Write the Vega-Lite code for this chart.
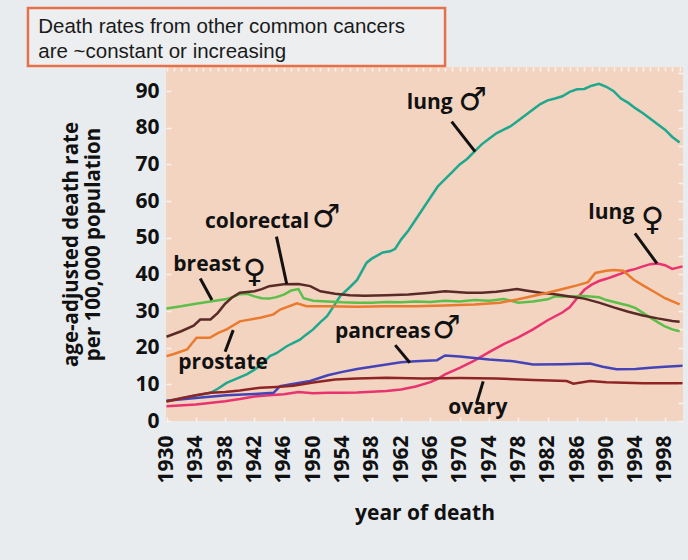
{
  "$schema": "https://vega.github.io/schema/vega-lite/v6.json",
  "autosize": "none",
  "width": 517,
  "height": 354,
  "padding": {"left": 166, "top": 67, "right": 5, "bottom": 139},
  "background": "#e9ecef",
  "config": {
    "view": {"fill": "#f3d4c1", "stroke": null},
    "font": "Open Sans"
  },
  "resolve": {"axis": {"x": "independent", "y": "independent"}},
  "datasets": {
    "lines": [
      {"s":"lung (male)","year":1930,"value":5.4},{"s":"lung (male)","year":1932,"value":6.2},{"s":"lung (male)","year":1933.6,"value":6.8},{"s":"lung (male)","year":1936,"value":7.7},{"s":"lung (male)","year":1937,"value":8.8},{"s":"lung (male)","year":1938.2,"value":10.4},{"s":"lung (male)","year":1939.5,"value":11.5},{"s":"lung (male)","year":1941,"value":12.8},{"s":"lung (male)","year":1942,"value":14},{"s":"lung (male)","year":1943,"value":15.5},{"s":"lung (male)","year":1944.1,"value":17.7},{"s":"lung (male)","year":1945,"value":18.5},{"s":"lung (male)","year":1946.4,"value":20.4},{"s":"lung (male)","year":1948.2,"value":22.2},{"s":"lung (male)","year":1949,"value":23.5},{"s":"lung (male)","year":1950,"value":25},{"s":"lung (male)","year":1951,"value":27},{"s":"lung (male)","year":1951.9,"value":28.6},{"s":"lung (male)","year":1952.7,"value":31},{"s":"lung (male)","year":1953.7,"value":34.1},{"s":"lung (male)","year":1955,"value":36.5},{"s":"lung (male)","year":1956,"value":38.5},{"s":"lung (male)","year":1957.3,"value":43.2},{"s":"lung (male)","year":1958,"value":44.3},{"s":"lung (male)","year":1959.5,"value":46},{"s":"lung (male)","year":1960.5,"value":46.3},{"s":"lung (male)","year":1961.2,"value":47},{"s":"lung (male)","year":1962,"value":49.5},{"s":"lung (male)","year":1963,"value":52},{"s":"lung (male)","year":1964,"value":55},{"s":"lung (male)","year":1965,"value":58},{"s":"lung (male)","year":1966,"value":61},{"s":"lung (male)","year":1967,"value":64},{"s":"lung (male)","year":1968,"value":66},{"s":"lung (male)","year":1969,"value":68},{"s":"lung (male)","year":1970,"value":70},{"s":"lung (male)","year":1971,"value":71.5},{"s":"lung (male)","year":1972,"value":73.5},{"s":"lung (male)","year":1973,"value":75.5},{"s":"lung (male)","year":1974,"value":77},{"s":"lung (male)","year":1975,"value":78.5},{"s":"lung (male)","year":1976,"value":79.5},{"s":"lung (male)","year":1977,"value":80.5},{"s":"lung (male)","year":1978,"value":82},{"s":"lung (male)","year":1979,"value":83.5},{"s":"lung (male)","year":1980,"value":85},{"s":"lung (male)","year":1981,"value":86.5},{"s":"lung (male)","year":1982,"value":87.5},{"s":"lung (male)","year":1983,"value":88},{"s":"lung (male)","year":1984,"value":88.6},{"s":"lung (male)","year":1985,"value":89.8},{"s":"lung (male)","year":1986,"value":90.5},{"s":"lung (male)","year":1987,"value":90.6},{"s":"lung (male)","year":1988,"value":91.5},{"s":"lung (male)","year":1989,"value":92},{"s":"lung (male)","year":1990,"value":91.2},{"s":"lung (male)","year":1991,"value":90},{"s":"lung (male)","year":1992,"value":88},{"s":"lung (male)","year":1993,"value":86.8},{"s":"lung (male)","year":1994,"value":85.3},{"s":"lung (male)","year":1995,"value":84},{"s":"lung (male)","year":1996,"value":82.5},{"s":"lung (male)","year":1997,"value":81},{"s":"lung (male)","year":1998,"value":79.5},{"s":"lung (male)","year":1999,"value":77.5},{"s":"lung (male)","year":2000,"value":76},

      {"s":"lung (female)","year":1930,"value":4.0},{"s":"lung (female)","year":1934,"value":4.5},{"s":"lung (female)","year":1938,"value":5.4},{"s":"lung (female)","year":1940,"value":6.0},{"s":"lung (female)","year":1942,"value":6.7},{"s":"lung (female)","year":1944,"value":7.0},{"s":"lung (female)","year":1946,"value":7.3},{"s":"lung (female)","year":1948,"value":7.9},{"s":"lung (female)","year":1950,"value":7.6},{"s":"lung (female)","year":1952,"value":7.7},{"s":"lung (female)","year":1954,"value":7.7},{"s":"lung (female)","year":1956,"value":7.8},{"s":"lung (female)","year":1958,"value":8.0},{"s":"lung (female)","year":1960,"value":8.2},{"s":"lung (female)","year":1962,"value":8.6},{"s":"lung (female)","year":1964,"value":9.4},{"s":"lung (female)","year":1966,"value":10.6},{"s":"lung (female)","year":1967,"value":11.5},{"s":"lung (female)","year":1968,"value":12.7},{"s":"lung (female)","year":1970,"value":14.5},{"s":"lung (female)","year":1972,"value":16.5},{"s":"lung (female)","year":1974,"value":18.8},{"s":"lung (female)","year":1976,"value":21.0},{"s":"lung (female)","year":1978,"value":22.8},{"s":"lung (female)","year":1980,"value":25.0},{"s":"lung (female)","year":1982,"value":27.5},{"s":"lung (female)","year":1984,"value":29.6},{"s":"lung (female)","year":1985,"value":31},{"s":"lung (female)","year":1986,"value":33.5},{"s":"lung (female)","year":1987,"value":35.8},{"s":"lung (female)","year":1988,"value":37.2},{"s":"lung (female)","year":1989,"value":38.2},{"s":"lung (female)","year":1990,"value":38.8},{"s":"lung (female)","year":1991,"value":39.5},{"s":"lung (female)","year":1992,"value":40.2},{"s":"lung (female)","year":1993,"value":41.0},{"s":"lung (female)","year":1994,"value":41.5},{"s":"lung (female)","year":1995,"value":42.2},{"s":"lung (female)","year":1996,"value":42.8},{"s":"lung (female)","year":1997,"value":43.0},{"s":"lung (female)","year":1998,"value":42.5},{"s":"lung (female)","year":1999,"value":41.5},{"s":"lung (female)","year":2000.4,"value":42.2},

      {"s":"breast","year":1930,"value":30.7},{"s":"breast","year":1932,"value":31.3},{"s":"breast","year":1934,"value":32.0},{"s":"breast","year":1936,"value":32.6},{"s":"breast","year":1938,"value":33.2},{"s":"breast","year":1939,"value":33.8},{"s":"breast","year":1940,"value":34.6},{"s":"breast","year":1941,"value":34.7},{"s":"breast","year":1942,"value":34.0},{"s":"breast","year":1943,"value":33.5},{"s":"breast","year":1944,"value":33.4},{"s":"breast","year":1945,"value":33.8},{"s":"breast","year":1946,"value":34.5},{"s":"breast","year":1947,"value":35.6},{"s":"breast","year":1948,"value":36.0},{"s":"breast","year":1948.7,"value":33.5},{"s":"breast","year":1950,"value":32.8},{"s":"breast","year":1952,"value":32.6},{"s":"breast","year":1954,"value":32.4},{"s":"breast","year":1956,"value":32.3},{"s":"breast","year":1958,"value":32.3},{"s":"breast","year":1960,"value":32.5},{"s":"breast","year":1962,"value":32.4},{"s":"breast","year":1964,"value":32.6},{"s":"breast","year":1966,"value":32.5},{"s":"breast","year":1968,"value":32.8},{"s":"breast","year":1970,"value":32.6},{"s":"breast","year":1972,"value":33.0},{"s":"breast","year":1974,"value":32.8},{"s":"breast","year":1976,"value":33.3},{"s":"breast","year":1978,"value":32.3},{"s":"breast","year":1980,"value":32.6},{"s":"breast","year":1982,"value":33.2},{"s":"breast","year":1983,"value":34.0},{"s":"breast","year":1985,"value":34.0},{"s":"breast","year":1987,"value":34.1},{"s":"breast","year":1989,"value":33.8},{"s":"breast","year":1990,"value":33.0},{"s":"breast","year":1992,"value":32.0},{"s":"breast","year":1993,"value":31.5},{"s":"breast","year":1994,"value":30.8},{"s":"breast","year":1995,"value":29.5},{"s":"breast","year":1996,"value":28.2},{"s":"breast","year":1997,"value":27.0},{"s":"breast","year":1998,"value":25.8},{"s":"breast","year":1999,"value":25.0},{"s":"breast","year":2000,"value":24.5},

      {"s":"colorectal","year":1930,"value":23.0},{"s":"colorectal","year":1932,"value":24.5},{"s":"colorectal","year":1933.7,"value":26.0},{"s":"colorectal","year":1934.6,"value":27.7},{"s":"colorectal","year":1936,"value":27.7},{"s":"colorectal","year":1937,"value":29.5},{"s":"colorectal","year":1938,"value":32.0},{"s":"colorectal","year":1939,"value":33.8},{"s":"colorectal","year":1940,"value":35.0},{"s":"colorectal","year":1942,"value":35.4},{"s":"colorectal","year":1943,"value":36.0},{"s":"colorectal","year":1944,"value":36.8},{"s":"colorectal","year":1946,"value":37.3},{"s":"colorectal","year":1948,"value":37.4},{"s":"colorectal","year":1949.6,"value":36.8},{"s":"colorectal","year":1951,"value":35.4},{"s":"colorectal","year":1953,"value":34.7},{"s":"colorectal","year":1955,"value":34.3},{"s":"colorectal","year":1957,"value":34.2},{"s":"colorectal","year":1960,"value":34.3},{"s":"colorectal","year":1963,"value":34.5},{"s":"colorectal","year":1966,"value":35.0},{"s":"colorectal","year":1968,"value":35.4},{"s":"colorectal","year":1971,"value":35.0},{"s":"colorectal","year":1973,"value":35.0},{"s":"colorectal","year":1975,"value":35.3},{"s":"colorectal","year":1977.8,"value":36.0},{"s":"colorectal","year":1979,"value":35.6},{"s":"colorectal","year":1981,"value":35.0},{"s":"colorectal","year":1983,"value":34.6},{"s":"colorectal","year":1985,"value":34.0},{"s":"colorectal","year":1987,"value":33.4},{"s":"colorectal","year":1989,"value":32.3},{"s":"colorectal","year":1991,"value":31.0},{"s":"colorectal","year":1993,"value":29.8},{"s":"colorectal","year":1995,"value":28.8},{"s":"colorectal","year":1997,"value":28.0},{"s":"colorectal","year":1999,"value":27.3},{"s":"colorectal","year":2000,"value":27.1},

      {"s":"prostate","year":1930,"value":17.7},{"s":"prostate","year":1931,"value":18.3},{"s":"prostate","year":1932.8,"value":19.5},{"s":"prostate","year":1934.1,"value":22.7},{"s":"prostate","year":1935.9,"value":22.7},{"s":"prostate","year":1937,"value":24.0},{"s":"prostate","year":1938.2,"value":25.0},{"s":"prostate","year":1940,"value":27.2},{"s":"prostate","year":1942.8,"value":28.2},{"s":"prostate","year":1944.6,"value":29.1},{"s":"prostate","year":1945.5,"value":30.4},{"s":"prostate","year":1947.8,"value":32.1},{"s":"prostate","year":1949.1,"value":31.3},{"s":"prostate","year":1952,"value":31.3},{"s":"prostate","year":1956,"value":31.2},{"s":"prostate","year":1960,"value":31.3},{"s":"prostate","year":1964,"value":31.3},{"s":"prostate","year":1968,"value":31.5},{"s":"prostate","year":1972,"value":31.8},{"s":"prostate","year":1975.5,"value":32.3},{"s":"prostate","year":1978,"value":33.2},{"s":"prostate","year":1980,"value":34.1},{"s":"prostate","year":1982,"value":35.0},{"s":"prostate","year":1984.6,"value":36.3},{"s":"prostate","year":1986,"value":37.0},{"s":"prostate","year":1987.5,"value":37.9},{"s":"prostate","year":1988.5,"value":40.4},{"s":"prostate","year":1990,"value":41.0},{"s":"prostate","year":1991,"value":41.2},{"s":"prostate","year":1992.3,"value":41.0},{"s":"prostate","year":1993.7,"value":38.6},{"s":"prostate","year":1995,"value":37.0},{"s":"prostate","year":1996.4,"value":35.4},{"s":"prostate","year":1998,"value":33.5},{"s":"prostate","year":2000,"value":31.8},

      {"s":"pancreas","year":1930,"value":5.5},{"s":"pancreas","year":1934,"value":6.3},{"s":"pancreas","year":1938.2,"value":7.0},{"s":"pancreas","year":1942,"value":7.4},{"s":"pancreas","year":1944.6,"value":7.7},{"s":"pancreas","year":1945.5,"value":9.5},{"s":"pancreas","year":1947,"value":10.0},{"s":"pancreas","year":1949.6,"value":10.9},{"s":"pancreas","year":1952,"value":12.5},{"s":"pancreas","year":1954,"value":13.4},{"s":"pancreas","year":1956,"value":14.2},{"s":"pancreas","year":1958,"value":14.8},{"s":"pancreas","year":1960,"value":15.4},{"s":"pancreas","year":1962,"value":16.0},{"s":"pancreas","year":1964,"value":16.3},{"s":"pancreas","year":1966.9,"value":16.6},{"s":"pancreas","year":1968,"value":17.9},{"s":"pancreas","year":1970,"value":17.6},{"s":"pancreas","year":1972,"value":17.2},{"s":"pancreas","year":1974,"value":16.8},{"s":"pancreas","year":1977.3,"value":16.3},{"s":"pancreas","year":1980,"value":15.4},{"s":"pancreas","year":1984,"value":15.5},{"s":"pancreas","year":1987.8,"value":15.7},{"s":"pancreas","year":1989.5,"value":14.8},{"s":"pancreas","year":1991.4,"value":14.1},{"s":"pancreas","year":1994,"value":14.2},{"s":"pancreas","year":1996,"value":14.5},{"s":"pancreas","year":1998,"value":14.8},{"s":"pancreas","year":2000.4,"value":15.1},

      {"s":"ovary","year":1930,"value":5.3},{"s":"ovary","year":1932,"value":6.2},{"s":"ovary","year":1934,"value":7.0},{"s":"ovary","year":1936,"value":7.7},{"s":"ovary","year":1938,"value":7.9},{"s":"ovary","year":1940,"value":8.3},{"s":"ovary","year":1942.8,"value":9.1},{"s":"ovary","year":1945,"value":9.3},{"s":"ovary","year":1947.3,"value":9.6},{"s":"ovary","year":1950,"value":10.5},{"s":"ovary","year":1953,"value":11.3},{"s":"ovary","year":1956,"value":11.6},{"s":"ovary","year":1960,"value":11.8},{"s":"ovary","year":1965,"value":11.6},{"s":"ovary","year":1970,"value":11.7},{"s":"ovary","year":1975,"value":11.6},{"s":"ovary","year":1980,"value":11.2},{"s":"ovary","year":1984.6,"value":10.9},{"s":"ovary","year":1985.5,"value":10.2},{"s":"ovary","year":1987.8,"value":10.9},{"s":"ovary","year":1990,"value":10.6},{"s":"ovary","year":1995,"value":10.3},{"s":"ovary","year":2000.4,"value":10.3}
    ],
    "box": [{"year": 1911.1, "year2": 1968.0, "value": 112.7, "value2": 96.9, "text": "Death rates from other common cancers\nare ~constant or increasing", "tyear": 1912.5, "tvalue": 105.8}],
    "labels": [
      {"label": "lung", "year": 1962.77, "value": 86.7},
      {"label": "lung", "year": 1987.55, "value": 56.7},
      {"label": "colorectal", "year": 1935.25, "value": 54.4},
      {"label": "breast", "year": 1930.93, "value": 42.6},
      {"label": "prostate", "year": 1931.61, "value": 15.7},
      {"label": "pancreas", "year": 1952.99, "value": 24.4},
      {"label": "ovary", "year": 1968.44, "value": 3.5}
    ],
    "symbols": [
      {"sym": "♂", "year": 1971.8, "value": 87.7},
      {"sym": "♀", "year": 1996.3, "value": 54.9},
      {"sym": "♂", "year": 1951.8, "value": 55.8},
      {"sym": "♀", "year": 1942.0, "value": 40.6},
      {"sym": "♂", "year": 1968.2, "value": 25.5}
    ],
    "leaders": [
      {"year": 1968.9, "value": 81.7, "year2": 1972.1, "value2": 73.5},
      {"year": 1993.9, "value": 51.2, "year2": 1996.9, "value2": 43.0},
      {"year": 1945.0, "value": 50.3, "year2": 1946.4, "value2": 37.4},
      {"year": 1934.6, "value": 38.9, "year2": 1936.2, "value2": 33.0},
      {"year": 1939.1, "value": 24.8, "year2": 1938.0, "value2": 18.9},
      {"year": 1961.2, "value": 20.7, "year2": 1963.2, "value2": 15.9},
      {"year": 1973.2, "value": 10.8, "year2": 1972.3, "value2": 4.8}
    ]
  },
  "layer": [
    {
      "data": {"name": "lines"},
      "mark": {"type": "line", "strokeWidth": 2.5},
      "encoding": {
        "x": {
          "field": "year", "type": "quantitative",
          "scale": {"domain": [1929.93, 2000.46], "nice": false, "zero": false},
          "axis": {
            "title": "year of death",
            "values": [1930,1934,1938,1942,1946,1950,1954,1958,1962,1966,1970,1974,1978,1982,1986,1990,1994,1998],
            "format": "d",
            "labelAngle": -90,
            "labelFont": "Open Sans", "labelFontWeight": "bold", "labelFontSize": 21, "labelColor": "#111111",
            "labelPadding": 18, "labelOverlap": false, "labelFlush": false,
            "tickSize": -4, "tickColor": "#fbf2ec", "tickWidth": 1.5,
            "domain": false, "grid": false,
            "titleFont": "Open Sans", "titleFontWeight": "bold", "titleFontSize": 21, "titleColor": "#111111", "titlePadding": 19
          }
        },
        "y": {
          "field": "value", "type": "quantitative",
          "scale": {"domain": [0, 96.6], "nice": false},
          "axis": {
            "title": ["age-adjusted death rate", "per 100,000 population"],
            "values": [0,10,20,30,40,50,60,70,80,90],
            "labelFont": "Open Sans", "labelFontWeight": "bold", "labelFontSize": 21, "labelColor": "#111111",
            "labelPadding": 12, "labelOverlap": false, "labelFlush": false,
            "tickSize": -5, "tickColor": "#fbf2ec", "tickWidth": 1.5,
            "domain": false, "grid": false,
            "titleFont": "Open Sans", "titleFontWeight": "bold", "titleFontSize": 20.5, "titleColor": "#111111", "titlePadding": 31, "titleLineHeight": 22
          }
        },
        "color": {
          "field": "s", "type": "nominal", "legend": null,
          "scale": {
            "domain": ["lung (male)", "lung (female)", "breast", "colorectal", "prostate", "pancreas", "ovary"],
            "range": ["#1ea88e", "#e8336f", "#5cbf4a", "#5a2a26", "#ea7a2e", "#4444b8", "#8e2424"]
          }
        }
      }
    },
    {
      "data": {"name": "box"},
      "mark": {"type": "rect", "fill": "#eceef0", "stroke": "#e5704a", "strokeWidth": 2.5},
      "encoding": {
        "x": {"field": "year", "type": "quantitative", "axis": null},
        "x2": {"field": "year2"},
        "y": {"field": "value", "type": "quantitative", "axis": null},
        "y2": {"field": "value2"}
      }
    },
    {
      "data": {"name": "box"},
      "mark": {"type": "text", "align": "left", "baseline": "alphabetic", "font": "Liberation Sans", "fontSize": 20.5, "lineHeight": 25, "lineBreak": "\n", "color": "#1a1a1a"},
      "encoding": {
        "x": {"field": "tyear", "type": "quantitative", "axis": null},
        "y": {"field": "tvalue", "type": "quantitative", "axis": null},
        "text": {"field": "text"}
      }
    },
    {
      "data": {"name": "leaders"},
      "mark": {"type": "rule", "color": "#111111", "strokeWidth": 3},
      "encoding": {
        "x": {
          "field": "year", "type": "quantitative",
          "axis": {
            "values": [1930,1931,1932,1933,1934,1935,1936,1937,1938,1939,1940,1941,1942,1943,1944,1945,1946,1947,1948,1949,1950,1951,1952,1953,1954,1955,1956,1957,1958,1959,1960,1961,1962,1963,1964,1965,1966,1967,1968,1969,1970,1971,1972,1973,1974,1975,1976,1977,1978,1979,1980,1981,1982,1983,1984,1985,1986,1987,1988,1989,1990,1991,1992,1993,1994,1995,1996,1997,1998,1999,2000],
            "labels": false, "title": null, "domain": false, "grid": false,
            "tickSize": -4, "tickColor": "#fbf2ec", "tickWidth": 1.5
          }
        },
        "x2": {"field": "year2"},
        "y": {
          "field": "value", "type": "quantitative",
          "axis": {
            "values": [0,5,10,15,20,25,30,35,40,45,50,55,60,65,70,75,80,85,90,95],
            "labels": false, "title": null, "domain": false, "grid": false,
            "tickSize": -5, "tickColor": "#fbf2ec", "tickWidth": 1.5
          }
        },
        "y2": {"field": "value2"}
      }
    },
    {
      "data": {"name": "labels"},
      "mark": {"type": "text", "align": "left", "baseline": "middle", "font": "Open Sans", "fontWeight": "bold", "fontSize": 21, "color": "#111111"},
      "encoding": {
        "x": {"field": "year", "type": "quantitative", "axis": null},
        "y": {"field": "value", "type": "quantitative", "axis": null},
        "text": {"field": "label"}
      }
    },
    {
      "data": {"name": "symbols"},
      "mark": {"type": "text", "align": "center", "baseline": "middle", "font": "DejaVu Sans", "fontSize": 32, "color": "#111111"},
      "encoding": {
        "x": {"field": "year", "type": "quantitative", "axis": null},
        "y": {"field": "value", "type": "quantitative", "axis": null},
        "text": {"field": "sym"}
      }
    }
  ]
}
